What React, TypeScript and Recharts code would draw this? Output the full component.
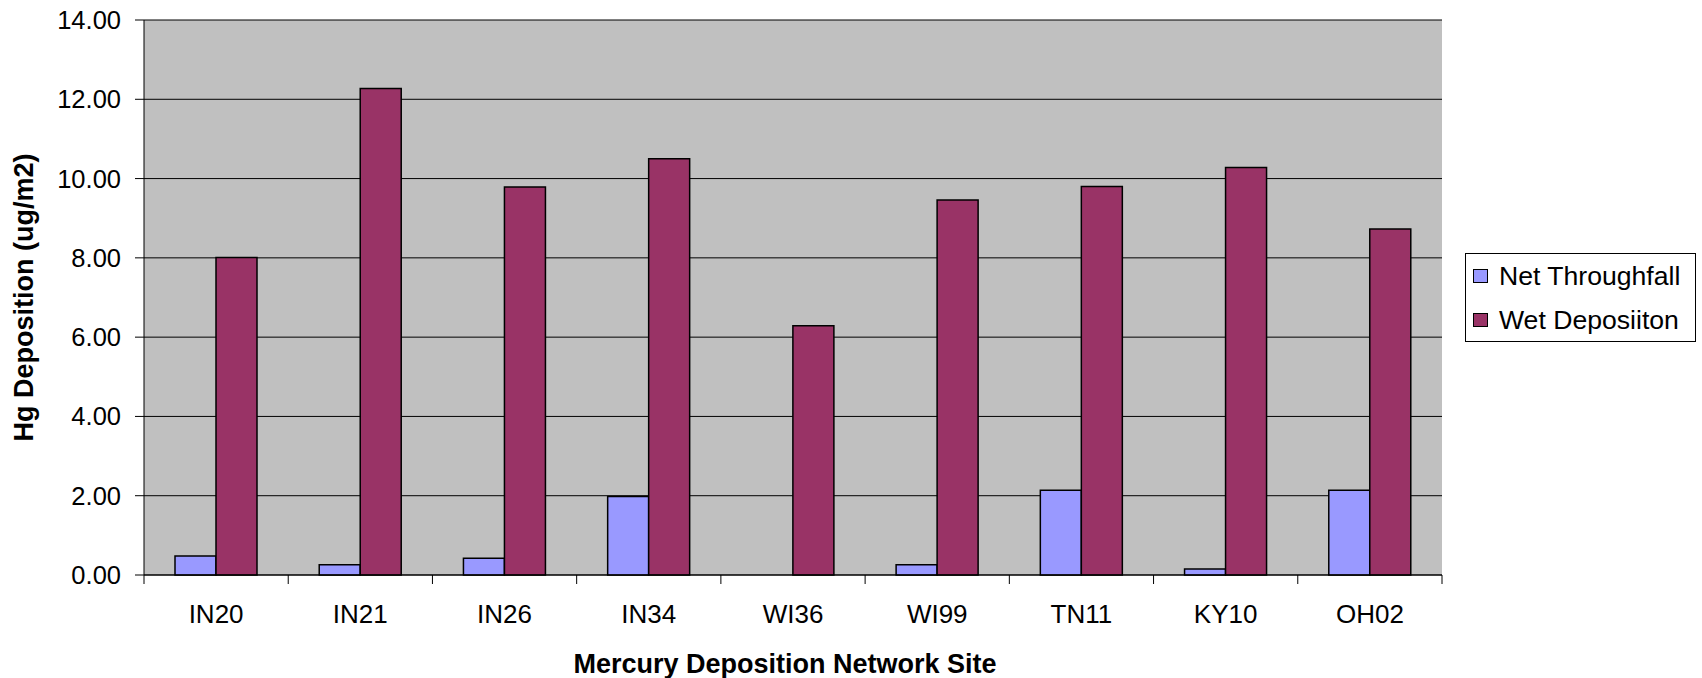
import React from "react";
import { BarChart, Bar, XAxis, YAxis, CartesianGrid, Legend, Label } from "recharts";

const sites = ["IN20", "IN21", "IN26", "IN34", "WI36", "WI99", "TN11", "KY10", "OH02"];
const netThroughfall = [0.48, 0.26, 0.42, 1.98, 0, 0.26, 2.14, 0.15, 2.14];
const wetDeposition = [8.01, 12.27, 9.79, 10.5, 6.29, 9.46, 9.8, 10.28, 8.73];
const yTicks = [0, 2, 4, 6, 8, 10, 12, 14];

const chartData = sites.map((site, i) => ({
    site,
    net: netThroughfall[i],
    wet: wetDeposition[i],
}));

const FONT = "'Liberation Sans', Arial, sans-serif";
const WIDTH = 1702;
const HEIGHT = 678;
const Y_AXIS_W = 144;
const MARGIN = { top: 20, right: 260, bottom: 43, left: 0 };
const X_AXIS_H = 60;
const AXIS_Y = HEIGHT - MARGIN.bottom - X_AXIS_H;
const BAND = (WIDTH - Y_AXIS_W - MARGIN.right) / sites.length;

// excel-style category axis: tick marks sit between categories, labels centred
const SiteTick = (props: any) => {
    const { x, y, payload, index } = props;
    const half = BAND / 2;
    return (
        <g>
            <line x1={x - half} x2={x - half} y1={AXIS_Y} y2={AXIS_Y + 9} stroke="#000" />
            {index === sites.length - 1 && <line x1={x + half} x2={x + half} y1={AXIS_Y} y2={AXIS_Y + 9} stroke="#000" />}
            <text x={x} y={y} dy="0.71em" textAnchor="middle" fontSize={26} fontFamily={FONT} fill="#000">
                {payload.value}
            </text>
        </g>
    );
};

const XTitle = (props: any) => {
    const { viewBox } = props;
    const cx = viewBox.x + viewBox.width / 2 - 8;
    return (
        <text x={cx} y={673} textAnchor="middle" fontSize={27} fontWeight="bold" fontFamily={FONT} fill="#000">
            Mercury Deposition Network Site
        </text>
    );
};

const YTitle = (props: any) => {
    const { viewBox } = props;
    const cy = viewBox.y + viewBox.height / 2;
    return (
        <text x={33} y={cy} transform={`rotate(-90, 33, ${cy})`} textAnchor="middle" fontSize={27} fontWeight="bold" fontFamily={FONT} fill="#000">
            Hg Deposition (ug/m2)
        </text>
    );
};

const renderLegend = (props: any) => {
    const { payload } = props;
    return (
        <div style={{ border: "1px solid #000", background: "#fff", width: 231, height: 89, boxSizing: "border-box", fontFamily: FONT, fontSize: 26.6 }}>
            {(payload || []).map((entry: any) => (
                <div key={entry.value} style={{ display: "flex", alignItems: "center", height: 44 }}>
                    <span style={{ display: "inline-block", width: 15, height: 14, marginLeft: 7, marginRight: 11, background: entry.color, border: "1px solid #000", boxSizing: "border-box" }} />
                    <span style={{ lineHeight: "27px" }}>{entry.value}</span>
                </div>
            ))}
        </div>
    );
};

export default function App() {
    return (
        <div style={{ position: "absolute", left: 0, top: 0, width: WIDTH, height: HEIGHT, background: "#fff" }}>
            <BarChart width={WIDTH} height={HEIGHT} data={chartData} margin={MARGIN} barCategoryGap={31} barGap={0}>
                <CartesianGrid vertical={false} stroke="#000" fill="#C0C0C0" fillOpacity={1} />
                <XAxis dataKey="site" height={X_AXIS_H} axisLine={{ stroke: "#000" }} tickLine={false} tickSize={0} tickMargin={30} tick={<SiteTick />} interval={0}>
                    <Label content={<XTitle />} />
                </XAxis>
                <XAxis xAxisId="top" dataKey="site" orientation="top" height={0} tick={false} tickLine={false} axisLine={{ stroke: "#808080" }} />
                <YAxis width={Y_AXIS_W} domain={[0, 14]} ticks={yTicks} interval={0} tickFormatter={(v: number) => v.toFixed(2)} tickSize={9} tickMargin={14} axisLine={{ stroke: "#000" }} tickLine={{ stroke: "#000" }} tick={{ fontSize: 25.5, fontFamily: FONT, fill: "#000" }}>
                    <Label content={<YTitle />} />
                </YAxis>
                <YAxis yAxisId="right" orientation="right" width={0} domain={[0, 14]} tick={false} tickLine={false} axisLine={{ stroke: "#808080", strokeWidth: 2 }} />
                <Legend layout="horizontal" verticalAlign="middle" align="center" content={renderLegend} wrapperStyle={{ position: "absolute", left: 1465, top: 253, width: 231, height: 89 }} />
                <Bar dataKey="net" name="Net Throughfall" fill="#9999FF" stroke="#000" strokeWidth={1.5} isAnimationActive={false} />
                <Bar dataKey="wet" name="Wet Deposiiton" fill="#993366" stroke="#000" strokeWidth={1.5} isAnimationActive={false} />
            </BarChart>
        </div>
    );
}
